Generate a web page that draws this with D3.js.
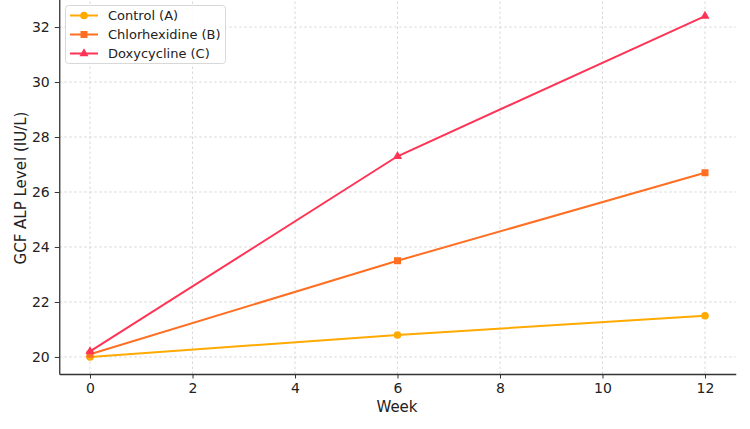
<!DOCTYPE html>
<html><head><meta charset="utf-8">
<script src="https://cdn.jsdelivr.net/npm/d3@7"></script>
<style>body{margin:0;background:#fff}svg{display:block}text{font-family:"DejaVu Sans",sans-serif}</style>
</head><body>
<svg id="c" width="750" height="429"></svg>
<script>
const weeks = [0, 6, 12];
const seriesNames = ["Control (A)", "Chlorhexidine (B)", "Doxycycline (C)"];
const controlA = [20.0, 20.8, 21.5];
const chlorhexidineB = [20.1, 23.5, 26.7];
const doxycyclineC = [20.2, 27.3, 32.4];
const xTicks = [0, 2, 4, 6, 8, 10, 12];
const yTicks = [20, 22, 24, 26, 28, 30, 32];
const colors = ["#FFAA00", "#FF6F22", "#FF3355"];
const markers = ["circle", "square", "triangle"];
const series = [controlA, chlorhexidineB, doxycyclineC];

const svg = d3.select("#c");
const x = d3.scaleLinear().domain([-0.6, 12.6]).range([59.25, 735.75]);
const y = d3.scaleLinear().domain([19.38, 33.02]).range([374, -1]);

// grid
const g = svg.append("g");
g.selectAll(".gx").data(xTicks).join("line")
  .attr("x1", d => x(d)).attr("x2", d => x(d)).attr("y1", y(19.38)).attr("y2", y(33.02))
  .attr("stroke", "#cfcfcf").attr("stroke-width", 0.8).attr("stroke-dasharray", "2.5,2.5");
g.selectAll(".gy").data(yTicks).join("line")
  .attr("x1", x(-0.6)).attr("x2", x(12.6)).attr("y1", d => y(d)).attr("y2", d => y(d))
  .attr("stroke", "#cfcfcf").attr("stroke-width", 0.8).attr("stroke-dasharray", "2.5,2.5");

// axes
const xAxis = svg.append("g").attr("transform", `translate(0,${y(19.38)})`)
  .call(d3.axisBottom(x).tickValues(xTicks).tickSizeInner(4.5).tickSizeOuter(0).tickPadding(5).tickFormat(d3.format("d")));
const yAxis = svg.append("g").attr("transform", `translate(${x(-0.6)},0)`)
  .call(d3.axisLeft(y).tickValues(yTicks).tickSizeInner(4.5).tickSizeOuter(0).tickPadding(5).tickFormat(d3.format("d")));
[xAxis, yAxis].forEach(a => {
  a.select(".domain").attr("stroke", "#333").attr("stroke-width", 1.3);
  a.selectAll(".tick line").attr("stroke", "#333").attr("stroke-width", 1);
  a.selectAll(".tick text").attr("fill", "#222").style("font-size", "14px").style("font-family", "DejaVu Sans, sans-serif");
});

svg.append("text").attr("x", 397).attr("y", 412).attr("text-anchor", "middle")
  .attr("fill", "#222").style("font-size", "15px").text("Week");
svg.append("text").attr("transform", "translate(26,188) rotate(-90)").attr("text-anchor", "middle")
  .attr("fill", "#222").style("font-size", "15px").text("GCF ALP Level (IU/L)");

function drawMarker(sel, type, cx, cy, color) {
  if (type === "circle") sel.append("circle").attr("cx", cx).attr("cy", cy).attr("r", 3.8).attr("fill", color);
  else if (type === "square") sel.append("rect").attr("x", cx - 3.5).attr("y", cy - 3.5).attr("width", 7).attr("height", 7).attr("fill", color);
  else sel.append("path").attr("d", d3.symbol(d3.symbolTriangle, 36)()).attr("transform", `translate(${cx},${cy})`).attr("fill", color);
}

const line = d3.line().x((d, i) => x(weeks[i])).y(d => y(d));
series.forEach((s, k) => {
  const gg = svg.append("g");
  gg.append("path").datum(s).attr("d", line).attr("fill", "none").attr("stroke", colors[k]).attr("stroke-width", 2);
  s.forEach((v, i) => drawMarker(gg, markers[k], x(weeks[i]), y(v), colors[k]));
});

// legend
const lg = svg.append("g");
lg.append("rect").attr("x", 65.5).attr("y", 5.5).attr("width", 160).attr("height", 58).attr("rx", 3)
  .attr("fill", "#fff").attr("fill-opacity", 0.85).attr("stroke", "#d8d8d8");
seriesNames.forEach((n, k) => {
  const cy = 15.5 + k * 19;
  lg.append("line").attr("x1", 70).attr("x2", 98).attr("y1", cy).attr("y2", cy).attr("stroke", colors[k]).attr("stroke-width", 2);
  drawMarker(lg, markers[k], 84, cy, colors[k]);
  lg.append("text").attr("x", 108).attr("y", cy + 4.5).attr("fill", "#222").style("font-size", "13px").text(n);
});
</script>
</body></html>
